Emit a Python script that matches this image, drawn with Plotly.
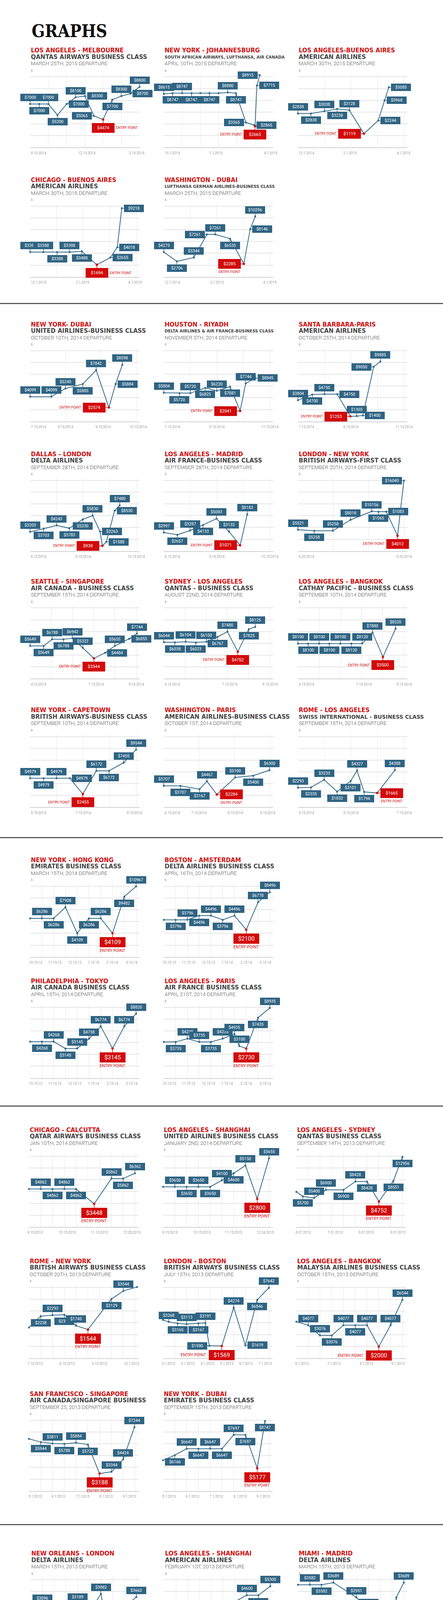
import plotly.graph_objects as go

W, H = 1133, 6304
BOX_BLUE = '#2f6483'
LINE_BLUE = '#356b8b'
ENTRY_RED = '#d20a0a'
TITLE_RED = '#d00f0f'
GREY_DARK = '#444444'
GREY_MID = '#555555'
GREY_TICK = '#666666'

# ---------------------------------------------------------------- text data
ROUTES = [
    "LOS ANGELES - MELBOURNE", "NEW YORK - JOHANNESBURG", "LOS ANGELES-BUENOS AIRES",
    "CHICAGO - BUENOS AIRES", "WASHINGTON - DUBAI",
    "NEW YORK- DUBAI", "HOUSTON - RIYADH", "SANTA BARBARA-PARIS",
    "DALLAS - LONDON", "LOS ANGELES - MADRID", "LONDON - NEW YORK",
    "SEATTLE - SINGAPORE", "SYDNEY - LOS ANGELES", "LOS ANGELES - BANGKOK",
    "NEW YORK - CAPETOWN", "WASHINGTON - PARIS", "ROME - LOS ANGELES",
    "NEW YORK - HONG KONG", "BOSTON - AMSTERDAM",
    "PHILADELPHIA - TOKYO", "LOS ANGELES - PARIS",
    "CHICAGO - CALCUTTA", "LOS ANGELES - SHANGHAI", "LOS ANGELES - SYDNEY",
    "ROME - NEW YORK", "LONDON - BOSTON", "LOS ANGELES - BANGKOK",
    "SAN FRANCISCO - SINGAPORE", "NEW YORK - DUBAI",
    "NEW ORLEANS - LONDON", "LOS ANGELES - SHANGHAI", "MIAMI - MADRID",
    "SAN DIEGO - LONDON", "BOSTON - LONDON", "MIAMI - MADRID",
    "CHICAGO - PARIS", "PITTSBURGH - SHANGHAI", "SYDNEY - LOS ANGELES",
    "LOS ANGELES - DELHI", "NEW YORK - ISTANBUL", "LONDON - NEW YORK",
    "TORONTO - PARIS",
    "DALLAS - PARIS", "NEW YORK - LONDON", "WASHINGTON - BEIJING",
    "MIAMI - SHANGHAI", "NEW YORK - PARIS",
]
AIRLINES = [
    "QANTAS AIRWAYS BUSINESS CLASS", "SOUTH AFRICAN AIRWAYS, LUFTHANSA, AIR CANADA", "AMERICAN AIRLINES",
    "AMERICAN AIRLINES", "LUFTHANSA GERMAN AIRLINES-BUSINESS CLASS",
    "UNITED AIRLINES-BUSINESS CLASS", "DELTA AIRLINES & AIR FRANCE-BUSINESS CLASS", "AMERICAN AIRLINES",
    "DELTA AIRLINES", "AIR FRANCE-BUSINESS CLASS", "BRITISH AIRWAYS-FIRST CLASS",
    "AIR CANADA - BUSINESS CLASS", "QANTAS - BUSINESS CLASS", "CATHAY PACIFIC - BUSINESS CLASS",
    "BRITISH AIRWAYS-BUSINESS CLASS", "AMERICAN AIRLINES-BUSINESS CLASS", "SWISS INTERNATIONAL - BUSINESS CLASS",
    "EMIRATES BUSINESS CLASS", "DELTA AIRLINES BUSINESS CLASS",
    "AIR CANADA BUSINESS CLASS", "AIR FRANCE BUSINESS CLASS",
    "QATAR AIRWAYS BUSINESS CLASS", "UNITED AIRLINES BUSINESS CLASS", "QANTAS BUSINESS CLASS",
    "BRITISH AIRWAYS BUSINESS CLASS", "BRITISH AIRWAYS BUSINESS CLASS", "MALAYSIA AIRLINES BUSINESS CLASS",
    "AIR CANADA/SINGAPORE BUSINESS", "EMIRATES BUSINESS CLASS",
    "DELTA AIRLINES", "AMERICAN AIRLINES", "DELTA AIRLINES",
    "UNITED AIRLINES", "LUFTHANSA/SWISS INTERNATONAL", "AMERICAN AIRLINES",
    "AMERICAN AIRLINES BUSINESS CLASS", "UNITED AIRLINES BUSINESS CLASS", "QANTAS BUSINESS CLASS",
    "MALAYSIA AIRLINES BUSINESS CLASS", "TURKISH AIRLINES BUSINESS CLASS", "BRITISH AIRWAYS - FIRST CLASS",
    "AIR CANADA/AIR FRANCE<br>BUSINESS CLASS",
    "AMERICAN AIRLINES BUSINESS CLASS", "BRITISH AIRWAYS BUSINESS CLASS", "AMERICAN AIRLINES BUSINESS CLASS",
    "DELTA AIRLINES BUSINESS CLASS", "AMERICAN AIRLINES",
]
DEPARTURES = [
    "MARCH 25TH, 2015 DEPARTURE", "APRIL 10TH, 2015 DEPARTURE", "MARCH 30TH, 2015 DEPARTURE",
    "MARCH 30TH, 2015 DEPARTURE", "MARCH 25TH, 2015 DEPARTURE",
    "OCTOBER 10TH, 2014 DEPARTURE", "NOVEMBER 5TH, 2014 DEPARTURE", "OCTOBER 25TH, 2014 DEPARTURE",
    "SEPTEMBER 28TH, 2014 DEPARTURE", "SEPTEMBER 28TH, 2014 DEPARTURE", "SEPTEMBER 20TH, 2014 DEPARTURE",
    "SEPTEMBER 15TH, 2014 DEPARTURE", "AUGUST 22ND, 2014 DEPARTURE", "SEPTEMBER 10TH, 2014 DEPARTURE",
    "SEPTEMBER 10TH, 2014 DEPARTURE", "OCTOBER 1ST, 2014 DEPARTURE", "SEPTEMBER 15TH, 2014 DEPARTURE",
    "MARCH 15TH, 2014 DEPARTURE", "APRIL 16TH, 2014 DEPARTURE",
    "APRIL 15TH, 2014 DEPARTURE", "APRIL 21ST, 2014 DEPARTURE",
    "JAN 10TH, 2014 DEPARTURE", "JANUARY 2ND, 2014 DEPARTURE", "SEPTEMBER 14TH, 2013 DEPARTURE",
    "OCTOBER 20TH, 2013 DEPARTURE", "JULY 15TH, 2013 DEPARTURE", "OCTOBER 15TH, 2013 DEPARTURE",
    "SEPTEMBER 25, 2013 DEPARTURE", "SEPTEMBER 15TH, 2013 DEPARTURE",
    "MARCH 15TH, 2013 DEPARTURE", "FEBRUARY 1ST, 2013 DEPARTURE", "MARCH 15TH, 2013 DEPARTURE",
    "MARCH 15TH, 2013 DEPARTURE", "APRIL 5TH, 2013 DEPARTURE", "MARCH 30TH, 2013 DEPARTURE",
    "APRIL 10TH, 2013 DEPARTURE", "MARCH 25TH, 2013 DEPARTURE", "APRIL 15TH, 2013 DEPARTURE",
    "APRIL 15TH, 2013 DEPARTURE", "APRIL 15TH, 2013 DEPARTURE", "APRIL 1ST, 2013 DEPARTURE",
    "MAY 1ST, 2013 DEPARTURE",
    "JUNE 1ST, 2015 DEPARTURE", "JUNE 15TH, 2015 DEPARTURE", "MAY 1ST, 2015 DEPARTURE",
    "MAY 15TH, 2015 DEPARTURE", "MAY 20TH, 2015 DEPARTURE",
]

# ---------------------------------------------------------------- series data
# x = position along each chart's time grid (grid-interval units)
X_POS = [
    [0, 0.5, 1, 1.5, 2, 2.5, 3, 3.5, 4, 4.5, 5, 5.5, 6],
    [0, 0.475, 1, 1.52, 2, 2.5, 3, 3.5, 3.95, 4.5, 4.95, 5.0, 5.1, 5.26],
    [0, 0.49, 1.0, 1.48, 1.94, 2.49, 3.03, 3.27, 3.43],
    [0, 0.5, 1.02, 1.49, 1.95, 2.52, 3.03, 3.29, 3.46],
    [0, 0.49, 1.13, 1.63, 1.94, 2.5, 3.02, 3.26, 3.45],
    [0, 0.6, 1.0, 1.49, 1.87, 2.23, 2.42, 2.61],
    [0, 0.59, 1.0, 1.56, 2.0, 2.5, 2.88, 3.09, 3.46],
    [0, 0.54, 1.0, 1.48, 1.98, 2.22, 2.45, 2.86, 3.11],
    [0, 0.51, 1.0, 1.48, 1.99, 2.36, 2.64, 2.73, 2.88, 3.19, 3.38],
    [0, 0.51, 0.99, 1.48, 1.99, 2.46, 2.88, 3.15],
    [0, 0.46, 0.99, 1.49, 2.09, 2.28, 2.5, 2.82, 3.0],
    [0, 0.64, 1.04, 1.57, 2.0, 2.49, 3.01, 3.54, 4.0, 4.67, 5.04],
    [0, 0.52, 1.03, 1.51, 2.01, 2.53, 3.0, 3.49, 4.01, 4.31],
    [0, 0.48, 1.0, 1.48, 2.0, 2.52, 3.03, 3.52, 4.01, 4.61],
    [0, 0.51, 1.0, 1.5, 1.99, 2.5, 2.98, 3.53, 4.0],
    [0, 0.47, 1.01, 1.22, 1.5, 2.02, 2.53, 2.99],
    [0, 0.49, 0.99, 1.48, 1.99, 2.23, 2.5, 2.99, 3.66],
    [0, 1, 2, 3, 4, 5, 6, 7, 8, 9],
    [0, 1, 2, 3, 4, 5, 6, 7, 8, 9],
    [0, 1, 2, 3, 4, 5, 6, 7, 8, 9],
    [0, 1, 2, 3, 4, 5, 6, 6.41, 7, 8, 9],
    [0, 1.01, 2.0, 3.01, 4.0, 5.54, 7.01, 8.0, 9.0],
    [0, 1, 2, 3, 4, 5, 6, 7, 8, 9],
    [0, 0.55, 1.51, 2.51, 4.0, 5.01, 6.0, 7.01, 8.24, 9.01],
    [0, 1.01, 2.0, 3.01, 4.0, 5.01, 7.01, 8.02, 9.18],
    [0, 0.48, 1.23, 2.0, 3.0, 3.59, 3.93, 4.99, 6.0, 6.99, 8.0, 8.99],
    [0, 1, 2, 3, 4, 5, 6, 7, 8, 9],
    [0, 1.01, 2.0, 3.01, 4.0, 5.01, 6.0, 7.01, 8.0, 8.96],
    [0, 1, 2, 3, 4, 5, 6, 7, 8, 8.66],
    [0, 1.01, 3.01, 4.0, 5.45, 5.98, 6.6, 7.01, 7.76, 8.29, 8.99],
    [0, 1.01, 3.06, 4.0, 6.0, 7.01, 8.0, 9.01],
    [0, 1.01, 2.0, 3.01, 4.96, 6.0, 6.53, 7.01, 7.73, 8.36, 8.99],
    [0, 0.46, 1.71, 3.37, 5.04, 6.0, 7.01, 7.73, 8.29, 8.99],
    [0, 1.01, 2.05, 3.06, 4.07, 5.01, 5.64, 6.8, 8.05, 9.01],
    [0, 0.48, 2.0, 3.01, 3.98, 5.01, 6.53, 7.54, 8.99],
    [0, 1, 2, 3, 4, 5, 6, 7, 8, 9],
    [0, 1.01, 2.0, 3.01, 4.0, 5.01, 6.0, 7.25, 8.0, 8.65],
    [0, 1, 2, 3, 3.98, 5.01, 6.0, 6.99, 8.0, 8.99],
    [0, 0.51, 1.25, 2.0, 2.51, 3.5, 4.0, 5.01, 5.98, 7.01, 7.61, 8.29, 9.04],
    [0, 1.01, 2.0, 3.01, 4.0, 5.01, 6.0, 7.01, 7.57, 7.98, 8.53, 9.01],
    [0, 1.01, 2.0, 3.01, 3.95, 4.99, 6.02, 6.99, 8.02, 8.99],
    [0, 0.51, 1.52, 2.51, 3.01, 4.0, 5.01, 5.73, 6.46, 7.01, 8.02, 8.99],
    [0, 1.01, 2.03, 3.01, 4.02, 5.03, 6.02, 7.04, 7.93, 8.99],
    [0, 1.01, 2.03, 3.01, 4.02, 5.03, 6.02, 7.04, 7.93, 8.99],
    [0.05, 1.01, 2.0, 3.01, 4.0, 5.01, 6.02, 7.01, 8.0, 8.67],
    [0, 1.01, 2.03, 3.01, 4.02, 5.03, 6.0, 7.04, 8.02, 8.99],
    [0, 1.01, 2.03, 3.01, 4.02, 5.03, 6.02, 7.04, 8.02, 9.01],
]
# fares in USD (plotted height)
PRICES = [
    [7000, 7000, 7000, 5200, 7000, 8100, 8300, 5065, 4474, 7700, 8300, 8700, 9800],
    [8615, 8747, 8747, 8747, 8747, 8747, 8747, 8880, 8747, 3365, 2865, 2665, 10155, 12070],
    [2838, 2838, 3038, 3238, 3128, 1119, 2244, 3968, 5085],
    [3388, 3388, 3388, 3388, 3488, 1694, 2655, 4018, 9218],
    [4275, 2706, 3344, 7261, 7261, 6535, 2285, 8146, 10296],
    [4099, 4099, 5245, 5885, 7842, 2574, 5884, 8598],
    [5804, 5720, 5720, 6823, 6220, 7081, 2041, 7744, 8845],
    [3804, 4700, 4750, 4750, 1253, 1303, 1400, 9050, 9885],
    [3203, 3703, 4243, 3783, 5230, 5830, 3263, 938, 1588, 6630, 7480],
    [2997, 2657, 3287, 4133, 5083, 3133, 1071, 5730],
    [5521, 5258, 5258, 8018, 10156, 10065, 10083, 4012, 17900],
    [5649, 5649, 6788, 6788, 6942, 5322, 3544, 4484, 5655, 6855, 7744],
    [6044, 6038, 6104, 6023, 6100, 6767, 7480, 4752, 7825, 8125],
    [8100, 8100, 8100, 8100, 8100, 8120, 8120, 11900, 3500, 13270],
    [4979, 4979, 4979, 4979, 2455, 6172, 6172, 7455, 9544],
    [3707, 3707, 3167, 4467, 2284, 5100, 5400, 6300],
    [2293, 2335, 3233, 1832, 3101, 4327, 1794, 1665, 4388],
    [6286, 6286, 6286, 7908, 4109, 6286, 6286, 4109, 9482, 10967],
    [3796, 3796, 3796, 4496, 4496, 3796, 4496, 2100, 6778, 8496],
    [4268, 4268, 4268, 3145, 3145, 4738, 6774, 3145, 6774, 8820],
    [3735, 3735, 4235, 3735, 3735, 4235, 4935, 3100, 2730, 7435, 8935],
    [4862, 4862, 4862, 4862, 4862, 3448, 5862, 5862, 6362],
    [3650, 3650, 3650, 3650, 3650, 4100, 4600, 5150, 2800, 5655],
    [6540, 5700, 5400, 6900, 6900, 8428, 8428, 4752, 8551, 12956],
    [1650, 2238, 2293, 2313, 1745, 1544, 3129, 3544, 3750],
    [3403, 3268, 3165, 3113, 3167, 3191, 1590, 1569, 4274, 1619, 4820, 5660],
    [4420, 4077, 3076, 3076, 4077, 4077, 4077, 2000, 4077, 6544],
    [6224, 5944, 5811, 5788, 5884, 5722, 3188, 3344, 4424, 7244],
    [5780, 6166, 6647, 6647, 6647, 6647, 7697, 7697, 5177, 8747],
    [2806, 3096, 3148, 3189, 3189, 3882, 1261, 1161, 961, 3189, 3662],
    [2950, 2950, 2950, 2100, 4100, 4600, 4600, 5300],
    [3582, 3582, 3582, 3689, 2951, 2361, 1353, 1253, 1053, 2951, 3689],
    [2738, 3052, 3144, 3144, 3144, 1421, 1321, 1171, 3144, 3586],
    [2332, 2332, 2332, 2332, 2332, 378, 2382, 3593, 5164, 6709],
    [1245, 1746, 3839, 3839, 1123, 3839, 3889, 4643, 5325],
    [1746, 1746, 3839, 3839, 1123, 3839, 3889, 4643, 5325, 6389],
    [4193, 4193, 4193, 2898, 2898, 5445, 2898, 6450, 8056, 13023],
    [7915, 7915, 7915, 7915, 4211, 7915, 7915, 5118, 10448, 11442],
    [4480, 4480, 4460, 4480, 2800, 2800, 5749, 3737, 5749, 2500, 5749, 6699, 7881],
    [5250, 5250, 5250, 5250, 5250, 5250, 5250, 5250, 2884, 2084, 7035, 8925],
    [8969, 8969, 8969, 4185, 9189, 8693, 8612, 3071, 8925, 14064],
    [4350, 4302, 4276, 4915, 4268, 4273, 4185, 4234, 4253, 1473, 4475, 5382],
    [3140, 3140, 3140, 3140, 3840, 3840, 5340, 680, 6540, 8040],
    [3144, 3144, 3144, 3144, 3644, 3644, 4448, 1180, 5648, 9004],
    [11559, 6599, 4650, 4650, 6599, 40, 5430, 5430, 11559, 16140],
    [4668, 4500, 3200, 3200, 4500, 5000, 2200, 7000, 8000, 8732],
    [3400, 3400, 4100, 4100, 5600, 5600, 474, 1080, 4785, 7700],
]
# label texts that differ from the plotted height (as printed in the graphic)
LABEL_FIX = {
    (0, 12): "$8800", (1, 12): "$7715", (1, 13): "$8915", (8, 9): "$8530",
    (9, 7): "$8183", (10, 5): "$1065", (10, 6): "$1083", (10, 8): "$16040",
    (13, 7): "$7880", (13, 9): "$8520", (25, 10): "$6846", (25, 11): "$7642",
}
ENTRY = [8, 11, 5, 5, 6, 5, 6, 4, 7, 6, 7, 6, 7, 8, 4, 4, 7, 7, 7, 7, 8, 5, 8, 7,
         5, 7, 7, 6, 8, 8, 3, 8, 7, 5, 4, 4, 6, 4, 9, 9, 7, 9, 7, 7, 5, 6, 6]
GRID_N = [6, 6, 4, 4, 4, 3, 4, 4, 4, 4, 3, 5, 5, 5, 4, 3, 4] + [9] * 30

TICK_LABELS = [
    ["8.15.2014", "12.15.2014", "3.15.2015"], ["10.1.2014", "1.1.2015", "4.1.2015"],
    ["12.1.2014", "2.1.2015", "4.1.2015"], ["12.1.2014", "2.1.2015", "4.1.2015"],
    ["12.1.2014", "2.1.2015", "4.1.2015"],
    ["7.15.2014", "8.15.2014", "9.15.2014", "10.15.2014"], ["7.15.2014", "9.15.2014", "11.15.2014"],
    ["7.15.2014", "8.15.2014", "11.15.2014"],
    ["6.15.2014", "8.15.2014", "10.15.2014"], ["6.15.2014", "8.15.2014", "10.15.2014"],
    ["6.20.2014", "9.20.2014"],
    ["4.15.2014", "7.15.2014", "9.15.2014"], ["4.15.2014", "7.15.2014", "9.15.2014"],
    ["4.15.2014", "7.15.2014", "9.15.2014"],
    ["5.15.2014", "7.15.2014", "9.15.2014"], ["6.15.2014", "7.15.2014", "8.15.2014", "9.15.2014"],
    ["3.15.2014", "5.15.2014", "7.15.2014"],
    ["10.15.13", "11.15.13", "12.15.13", "1.15.14", "2.15.14", "3.10.14"],
    ["10.15.13", "11.15.13", "12.15.13", "1.15.14", "2.15.14", "3.15.14"],
    ["10.15.13", "11.15.13", "12.15.13", "1.15.14", "2.15.14", "3.15.14"],
    ["10.15.13", "11.15.13", "12.15.13", "1.15.14", "2.15.14", "3.15.14"],
    ["9.15.2013", "10.15.2013", "11.13.2013", "12.28.2013"],
    ["9.15.2013", "10.15.2013", "11.15.2013", "12.24.2013"],
    ["6.01.2013", "7.01.2013", "8.01.2013", "9.01.2013"],
    ["7.15.2013", "8.15.2013", "9.15.2013", "10.1.2013"],
    ["2.1.2013", "3.1.2013", "4.1.2013", "5.1.2013", "6.1.2013", "7.1.2013"],
    ["6.1.2013", "7.1.2013", "8.1.2013", "9.1.2013"],
    ["5.1.2013", "6.1.2013", "7.1.2013", "8.1.2013", "9.1.2013"],
    ["5.1.2013", "6.1.2013", "7.1.2013", "8.1.2013", "9.1.2013"],
    ["11.15.2012", "12.15.2012", "1.15.2013"], ["11.15.2012", "12.15.2012", "1.15.2013"],
    ["11.15.2012", "12.15.2012", "1.15.2013"], ["11.15.2012", "12.15.2012", "1.15.2013"],
    ["12.01.2012", "1.01.2013", "2.01.2013", "3.01.2013"],
    ["12.15.2012", "1.15.2013", "2.15.2013", "3.15.2013"],
    ["12.15.2012", "1.15.2013", "2.15.2013", "3.15.2013"],
    ["12.15.2012", "1.15.2013", "2.15.2013", "3.15.2013"],
    ["12.15.2012", "1.15.2013", "2.15.2013", "3.15.2013", "4.15.2013"],
    ["11.01.2012", "12.01.2012", "1.01.2013", "1.02.2013", "1.03.2013", "1.04.2013"],
    ["11.01.2012", "12.01.2012", "1.01.2013", "2.01.2013", "3.01.2013"],
    ["12.15.2012", "1.15.2013", "2.15.2013", "3.15.2013"],
    ["12.15.2012", "1.15.2013", "2.15.2013", "3.15.2013", "4.15.2013"],
    ["1.1.15", "2.5.15", "3.12.15", "4.2.15", "4.30.15", "5.21.15"],
    ["2.1.15", "3.1.15", "4.1.15", "5.1.15", "6.1.15"],
    ["1.15.15", "2.5.15", "2.19.15", "3.5.15", "3.26.15", "4.16.15"],
    ["1.15.15", "2.15.15", "3.15.15", "4.8.15", "5.1.15"],
    ["1.15.15", "2.15.15", "3.1.15", "3.31.15", "4.25.15", "5.15.15"],
]
TICK_AT = [
    [0, 3.1, 5.83], [0, 2.85, 5.85], [0, 1.97, 3.99], [0, 1.98, 3.95], [0, 2, 4],
    [0, 1.0, 2.06, 3.05], [0, 2, 4], [0, 2, 4],
    [0, 2, 4], [0, 2, 4], [0, 3],
    [0, 3.1, 5], [0, 3.1, 5], [0, 3.1, 5],
    [0, 2, 3.93], [0, 0.99, 2.02, 2.94], [0, 2, 4],
    [0.48, 2.1, 3.78, 5.35, 6.96, 8.63], [0.48, 2.1, 3.8, 5.37, 7.0, 8.63],
    [0.48, 2.1, 3.8, 5.37, 7.0, 8.63], [0.48, 2.1, 3.8, 5.37, 7.0, 8.63],
    [0.53, 3.25, 5.98, 8.72], [0.58, 3.3, 5.98, 8.67], [0.58, 3.3, 5.93, 8.63],
    [0.53, 3.25, 5.98, 8.72], [0.46, 2.1, 3.76, 5.4, 7.04, 8.67], [0.46, 3.2, 5.93, 8.63],
    [0.53, 2.48, 4.55, 6.55, 8.53], [0.5, 2.48, 4.53, 6.53, 8.5],
    [0.7, 4.63, 8.46], [0.7, 4.65, 8.46], [0.7, 4.63, 8.46],
    [0.7, 4.63, 8.46], [0.72, 3.35, 5.98, 8.63], [0.67, 3.33, 5.98, 8.63],
    [0.7, 3.33, 5.88, 8.46], [0.7, 3.35, 5.98, 8.63], [0.67, 2.65, 4.65, 6.65, 8.63],
    [0.63, 2.29, 3.9, 5.54, 7.16, 8.8], [0.72, 2.7, 4.67, 6.65, 8.63], [0.67, 3.33, 5.98, 8.63],
    [0.63, 2.67, 4.72, 6.75, 8.77],
    [0.31, 1.98, 3.64, 5.3, 6.96, 8.63], [0.31, 2.34, 4.39, 6.51, 8.55],
    [0.39, 2.02, 3.69, 5.33, 6.99, 8.63],
    [0.39, 2.41, 4.46, 6.5, 8.53], [0.39, 2.05, 3.71, 5.33, 6.99, 8.63],
]

# ---------------------------------------------------------------- placement / style
# label placement per point: u above, d below, l left, r right, n none, c custom
LABEL_POS = [
    "ududrurldduru", "ududndnudlrdrl", "ududulrrr", "uududdrrr", "uduludlru",
    "uuudulru", "udududlur", "udurlurlu", "ududdurlrru", "ududuulu", "uduuudrdl",
    "ududuudruru", "ududududdu", "udududuudu", "udurduduu", "uddurudu", "ududdudru",
    "nududduddu", "ndudududuu", "nduduuuduu", "nduuduuuddu",
    "nududdudu", "nududududu", "nduududddd", "ndududdun", "nududuldurdu", "nuudududuu",
    "ndududduuu", "ndudududdd",
    "nududurlddu", "nuuddudu", "nuduuuurddu", "nduduuuddu", "nududduddu", "nddndudud",
    "ndudduduun", "ccnduudndd", "nududduddu", "nududuududddd", "nududududduu", "ndudududuu",
    "nududududddd", "ududududdu", "ududududdu", "nuudududun", "udduuuddun", "udududdudd",
]
CUSTOM_OFFSETS = {(36, 0): (8, -72), (36, 1): (-52, -35)}
ENTRY_TXT = ["r", "l", "l", "r", "b", "l", "l", "l", "l", "l", "l", "l", "l", "l", "l",
             "b", "b", "b", "b", "b", "b", "b", "b", "b", "b", "l", "l", "b", "b",
             "l", "l", "l", "l", "b", "r", "r", "r", "r", "b", "l", "l", "b", "b", "b",
             "l", "l", "l"]
# y-scale calibration (value, fraction of plot height, value, fraction)
YCAL = [
    (4474, 0.377, 8300, 0.695), (2665, 0.286, 8747, 0.734), (1119, 0.185, 5085, 0.815),
    (1694, 0.164, 9218, 0.929), (2285, 0.176, 10296, 0.818),
    (2574, 0.187, 8598, 0.767), (2041, 0.141, 8845, 0.586), (1253, 0.067, 9885, 0.811),
    (938, 0.071, 5830, 0.48), (1071, 0.078, 5083, 0.439), (4012, 0.208, 10156, 0.538),
    (3544, 0.275, 7744, 0.61), (4752, 0.365, 8125, 0.70), (3500, 0.293, 8100, 0.474),
    (2455, 0.178, 9544, 0.779), (2284, 0.172, 6300, 0.501), (1665, 0.192, 4327, 0.495),
    (4109, 0.321, 10967, 0.955), (2100, 0.368, 8496, 0.877),
    (3145, 0.399, 8820, 0.869), (2730, 0.399, 8935, 0.949),
    (3448, 0.313, 6362, 0.726), (2800, 0.38, 5655, 0.93), (4752, 0.344, 12956, 0.949),
    (1544, 0.387, 3544, 0.91), (1569, 0.164, 3268, 0.491), (2000, 0.157, 6544, 0.789),
    (3188, 0.235, 7244, 0.863), (5177, 0.307, 8747, 0.947),
    (961, 0.202, 3189, 0.632), (2100, 0.313, 5300, 0.869), (1053, 0.202, 3689, 0.918),
    (1171, 0.2, 3144, 0.70), (378, 0.313, 6709, 0.867), (1123, 0.205, 5325, 0.89),
    (1123, 0.157, 5325, 0.789), (2898, 0.213, 13023, 0.957), (4211, 0.16, 11442, 0.879),
    (2500, 0.259, 7881, 0.92), (2084, 0.153, 8925, 0.882), (3071, 0.159, 14064, 0.795),
    (1473, 0.259, 4915, 0.795),
    (680, 0.315, 8040, 0.95), (1180, 0.315, 9004, 0.95), (40, 0.161, 11559, 0.631),
    (2200, 0.159, 8000, 0.863), (474, 0.159, 7700, 0.952),
]
AIRLINE_SIZE = {1: 10.3, 4: 10.3, 6: 10.3, 16: 13.6}

XA = [77, 419, 762]
XB = [74, 417, 758]
XC = [78, 420, 762]
ROWS = [
    (129.3, [0, 1, 2], XA, False), (460.7, [3, 4], XA, False),
    (830.7, [5, 6, 7], XA, False), (1162.7, [8, 9, 10], XA, False),
    (1489.3, [11, 12, 13], XA, False), (1818.4, [14, 15, 16], XA, False),
    (2201.7, [17, 18], XA, False), (2511.6, [19, 20], XA, False),
    (2892.9, [21, 22, 23], XB, False), (3228.8, [24, 25, 26], XB, False),
    (3568.7, [27, 28], XB, False),
    (3977.0, [29, 30, 31], XC, False), (4311.1, [32, 33, 34], XC, False),
    (4643.6, [35, 36, 37], XC, False), (4974.7, [38, 39, 40], XC, False),
    (5305.6, [41], XC, True), (5658.2, [42, 43, 44], XC, False),
    (5989.5, [45, 46], XC, False),
]
DARK_RULES = [777, 2144.3, 2831.6, 3903.1]
LIGHT_RULES = [4276.3, 4608.4, 4939.6, 5269.9, 5617.9]

SANS = "DejaVu Sans, Verdana, sans-serif"
LIGHT = "Roboto, Liberation Sans, sans-serif"


def py(px):
    return 1 - px / H


def yrange(cal):
    v1, f1, v2, f2 = cal
    span = (v2 - v1) / (f2 - f1)
    lo = v1 - f1 * span
    return lo, lo + span


fig = go.Figure()
ann = []
shapes = []
axes = {}

ann.append(dict(x=79 / W, y=py(80), xref="paper", yref="paper", xanchor="left", yanchor="middle",
                showarrow=False, text="<b>GRAPHS</b>",
                font=dict(family="DejaVu Serif Condensed, DejaVu Serif, serif", size=44, color="#111111")))

for r_i, (ty, charts, xs, tall) in enumerate(ROWS):
    big = r_i >= 6
    ex = 16 if tall else 0
    top = ty + 59 + ex
    bot = ty + 248 + ex
    for c, i in enumerate(charts):
        k = i + 1
        sfx = "" if k == 1 else str(k)
        xref, yref = "x" + sfx, "y" + sfx
        x0 = xs[c]
        x1 = x0 + 280
        n = GRID_N[i]
        span_px = 280 if i in (0, 1) else 271
        lo, hi = yrange(YCAL[i])
        axes["xaxis" + sfx] = dict(
            domain=[x0 / W, x1 / W], range=[0, n * 280 / span_px], anchor=yref,
            tickvals=list(range(n + 1)), showticklabels=False, ticks="",
            showgrid=True, gridcolor="#e9e9e9", gridwidth=1, zeroline=False,
            showline=True, linecolor="#d2d2d2", linewidth=2, fixedrange=True)
        axes["yaxis" + sfx] = dict(
            domain=[py(bot), py(top)], range=[lo, hi], anchor=xref,
            tickvals=[lo + g * 0.1595 * (hi - lo) for g in range(1, 7)],
            showticklabels=False, ticks="", showgrid=True, gridcolor="#e6e6e6",
            gridwidth=1.6, zeroline=False, showline=False, fixedrange=True)

        xv, yv = X_POS[i], PRICES[i]
        e = ENTRY[i]
        fig.add_trace(go.Scatter(x=xv, y=yv, xaxis=xref, yaxis=yref, mode="lines+markers",
                                 line=dict(color=LINE_BLUE, width=2),
                                 marker=dict(size=5, color=LINE_BLUE),
                                 cliponaxis=False, hoverinfo="skip", showlegend=False))
        fig.add_trace(go.Scatter(x=[xv[e]], y=[yv[e]], xaxis=xref, yaxis=yref, mode="markers",
                                 marker=dict(size=6, color=ENTRY_RED),
                                 cliponaxis=False, hoverinfo="skip", showlegend=False))

        # headings
        ann.append(dict(x=x0 / W, y=py(ty), xref="paper", yref="paper", xanchor="left",
                        yanchor="middle", showarrow=False, text="<b>" + ROUTES[i] + "</b>",
                        font=dict(family=SANS, size=15, color=TITLE_RED)))
        asz = AIRLINE_SIZE.get(i, 15)
        for li, line in enumerate(AIRLINES[i].split("<br>")):
            ann.append(dict(x=x0 / W, y=py(ty + 16.5 + 16 * li), xref="paper", yref="paper",
                            xanchor="left", yanchor="middle", showarrow=False,
                            text="<b>" + line + "</b>",
                            font=dict(family=SANS, size=asz, color=GREY_DARK)))
        ann.append(dict(x=x0 / W, y=py(ty + 33 + ex), xref="paper", yref="paper", xanchor="left",
                        yanchor="middle", showarrow=False, text=DEPARTURES[i],
                        font=dict(family=LIGHT, size=13.5, color=GREY_MID, weight=300)))
        ann.append(dict(x=x0 / W, y=py(ty + 51 + ex), xref="paper", yref="paper", xanchor="left",
                        yanchor="middle", showarrow=False, text="$",
                        font=dict(family=LIGHT, size=8, color="#777777")))

        # date ticks
        for pos, lbl in zip(TICK_AT[i], TICK_LABELS[i]):
            ann.append(dict(x=pos, y=py(bot + 14.5), xref=xref, yref="paper",
                            xanchor="left" if pos == 0 else "center", yanchor="middle",
                            showarrow=False, text=lbl,
                            font=dict(family=LIGHT, size=9, color=GREY_TICK, weight=300)))

        # value labels
        codes = LABEL_POS[i]
        for j in range(len(xv)):
            code = codes[j] if j < len(codes) else "n"
            if code == "n":
                continue
            text = LABEL_FIX.get((i, j), "$" + str(yv[j]))
            is_entry = (j == e)
            if is_entry:
                w, h = (64, 24) if big else (56, 23)
                fs = 15 if big else 11
                bg = ENTRY_RED
                dv = 23 if big else 21
                dh = 38 if big else 37
            else:
                w, h, fs, bg, dv, dh = 49, 17, 10.5, BOX_BLUE, 17, 31
            base = dict(x=xv[j], y=yv[j], xref=xref, yref=yref, text=text, bgcolor=bg,
                        width=w, height=h, borderpad=1, borderwidth=0, align="center",
                        font=dict(family=LIGHT, size=fs, color="white"))
            if code == "c":
                dx, dy = CUSTOM_OFFSETS[(i, j)]
                base.update(showarrow=False, xshift=dx, yshift=-dy, xanchor="center", yanchor="middle")
                ann.append(base)
                continue
            ax, ay = {"u": (0, -dv), "d": (0, dv), "l": (-dh, 0), "r": (dh, 0)}[code]
            base.update(showarrow=True, ax=ax, ay=ay, axref="pixel", ayref="pixel", arrowhead=0,
                        arrowwidth=1.4, arrowcolor=bg, standoff=0, startstandoff=0)
            ann.append(base)
            if is_entry:
                mode = ENTRY_TXT[i]
                tdx = 72 if big else 61
                if mode == "l":
                    sx, sy = ax - tdx, ay
                elif mode == "r":
                    sx, sy = ax + tdx, ay
                else:
                    sx, sy = ax, ay + 21
                ann.append(dict(x=xv[j], y=yv[j], xref=xref, yref=yref, showarrow=False,
                                xshift=sx, yshift=-sy, xanchor="center", yanchor="middle",
                                text="ENTRY POINT",
                                font=dict(family=LIGHT, size=10.5 if big else 9, color=ENTRY_RED)))

for yy in DARK_RULES:
    shapes.append(dict(type="line", xref="paper", yref="paper", x0=0, x1=1, y0=py(yy), y1=py(yy),
                       line=dict(color="#3c3c3c", width=2.5)))
for yy in LIGHT_RULES:
    shapes.append(dict(type="line", xref="paper", yref="paper", x0=77 / W, x1=1056 / W,
                       y0=py(yy), y1=py(yy), line=dict(color="#cccccc", width=1.5)))

fig.update_layout(width=W, height=H, margin=dict(l=0, r=0, t=0, b=0),
                  paper_bgcolor="white", plot_bgcolor="white", showlegend=False,
                  annotations=ann, shapes=shapes, **axes)
fig.write_html("out.html", config={"displayModeBar": False},
               post_script="document.body.style.margin='0px';document.body.style.overflow='hidden';")
